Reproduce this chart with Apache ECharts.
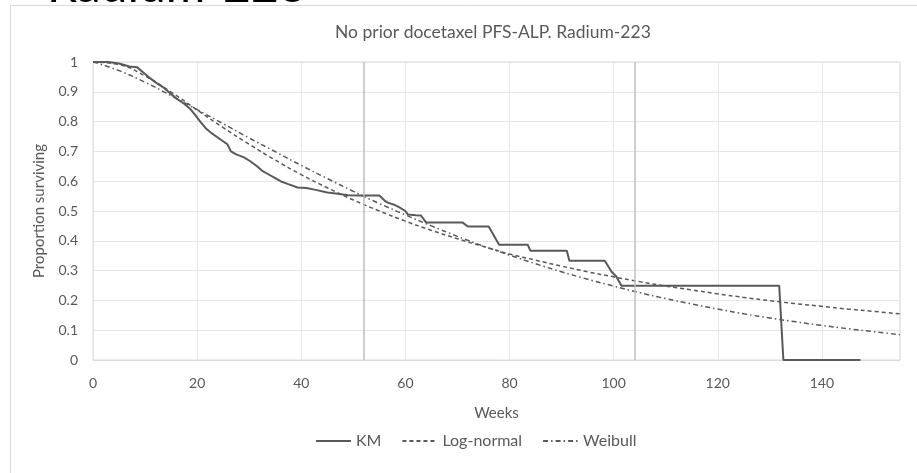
<!DOCTYPE html>
<html>
<head>
<meta charset="utf-8">
<script src="https://cdn.jsdelivr.net/npm/echarts@6/dist/echarts.min.js"></script>
<style>
html,body{margin:0;padding:0;background:#fff;}
#c{width:917px;height:473px;}
</style>
</head>
<body>
<div id="c"></div>
<script>
var titleText = 'No prior docetaxel PFS-ALP. Radium-223';
var cutTitle = 'Radium-223';
var xName = 'Weeks';
var yName = 'Proportion surviving';
var seriesNames = ['KM', 'Log-normal', 'Weibull'];
var refWeeks = [52, 104];

var kmWeeks = [0,3,5,7,8.5,10,11,12.3,13.5,14.8,16,17.5,18.7,19.5,20.6,21.8,23.1,24.5,25.8,26.5,27.5,29,30.2,31.5,32.5,33.5,35,36,37.5,39.3,41,43,45,47,49,50.9,55,56,56.6,58,58.6,60,60.5,62,63,64,71,72,76,78,83.5,84,91,91.5,98.3,99.6,100.5,101.5,131.8,132.6,147.4];
var kmSurv  = [1,1,0.995,0.985,0.982,0.96,0.945,0.928,0.915,0.895,0.878,0.86,0.842,0.825,0.8,0.775,0.757,0.74,0.724,0.7,0.69,0.68,0.667,0.65,0.635,0.625,0.61,0.6,0.59,0.579,0.577,0.57,0.562,0.558,0.553,0.552,0.552,0.535,0.528,0.52,0.515,0.5,0.488,0.486,0.485,0.461,0.461,0.448,0.448,0.387,0.387,0.367,0.367,0.333,0.333,0.296,0.28,0.249,0.249,0,0];

var fitWeeks = [0,5,10,15,20,25,30,35,40,45,50,55,60,65,70,75,80,85,90,95,100,105,110,115,120,125,130,135,140,145,150,155];
var lognormSurv = [1,0.991,0.953,0.899,0.839,0.78,0.724,0.671,0.622,0.578,0.537,0.5,0.466,0.435,0.407,0.381,0.356,0.335,0.315,0.296,0.279,0.263,0.248,0.235,0.222,0.21,0.199,0.189,0.18,0.171,0.163,0.155];
var weibullSurv = [1,0.971,0.932,0.887,0.84,0.793,0.745,0.699,0.653,0.609,0.566,0.525,0.487,0.45,0.415,0.382,0.352,0.323,0.296,0.271,0.248,0.226,0.206,0.188,0.171,0.155,0.141,0.128,0.116,0.105,0.095,0.085];

function zip(a, b) { return a.map(function (v, i) { return [v, b[i]]; }); }

var txt = '#595959';
var font = 'Lato, "Open Sans", sans-serif';
var chart = echarts.init(document.getElementById('c'), null, {renderer: 'canvas'});
chart.setOption({
  animation: false,
  backgroundColor: '#fff',
  textStyle: {fontFamily: font, color: txt},
  graphic: [
    {type: 'rect', shape: {x: 10.5, y: 5.5, width: 930, height: 500}, style: {fill: 'none', stroke: '#d9d9d9', lineWidth: 1}, silent: true, z: -1},
    {type: 'text', left: 47, top: -37, style: {text: cutTitle, font: '48px ' + font, fill: '#000'}, silent: true}
  ],
  title: {
    text: titleText, left: 330, top: 18,
    textStyle: {fontFamily: font, fontSize: 17.5, fontWeight: 'normal', color: txt}
  },
  legend: {
    bottom: 19, left: 310, itemWidth: 35, itemHeight: 10, itemGap: 20,
    itemStyle: {opacity: 0},
    textStyle: {fontFamily: font, fontSize: 16, color: txt},
    data: seriesNames
  },
  grid: {left: 93, right: 17, top: 62, bottom: 113, show: true, borderColor: '#d9d9d9', borderWidth: 1},
  xAxis: {
    type: 'value', min: 0, max: 155, interval: 20,
    name: xName, nameLocation: 'middle', nameGap: 46,
    nameTextStyle: {fontFamily: font, fontSize: 15, color: txt},
    axisLine: {show: true, lineStyle: {color: '#d9d9d9'}},
    axisTick: {show: false},
    axisLabel: {fontFamily: font, fontSize: 14, color: txt, margin: 16, showMaxLabel: false},
    splitLine: {show: true, lineStyle: {color: '#e6e6e6'}}
  },
  yAxis: {
    type: 'value', min: 0, max: 1, interval: 0.1,
    name: yName, nameLocation: 'middle', nameGap: 46,
    nameTextStyle: {fontFamily: font, fontSize: 15, color: txt},
    axisLine: {show: false},
    axisTick: {show: false},
    axisLabel: {fontFamily: font, fontSize: 14, color: txt, margin: 15},
    splitLine: {show: true, lineStyle: {color: '#e6e6e6'}}
  },
  series: [
    {
      name: seriesNames[0], type: 'line', data: zip(kmWeeks, kmSurv), showSymbol: false, symbol: 'none',
      lineStyle: {color: '#595959', width: 2}, itemStyle: {color: '#595959'}, z: 3,
      markLine: {
        silent: true, symbol: 'none', label: {show: false},
        lineStyle: {color: '#bfbfbf', width: 1.5, type: 'solid'},
        data: refWeeks.map(function (w) { return {xAxis: w}; })
      }
    },
    {
      name: seriesNames[1], type: 'line', data: zip(fitWeeks, lognormSurv), showSymbol: false, symbol: 'none', smooth: true,
      lineStyle: {color: '#595959', width: 1.5, type: [4, 3]}, itemStyle: {color: '#595959'}
    },
    {
      name: seriesNames[2], type: 'line', data: zip(fitWeeks, weibullSurv), showSymbol: false, symbol: 'none', smooth: true,
      lineStyle: {color: '#595959', width: 1.5, type: [5, 3, 1.5, 3]}, itemStyle: {color: '#595959'}
    }
  ]
});
</script>
</body>
</html>
